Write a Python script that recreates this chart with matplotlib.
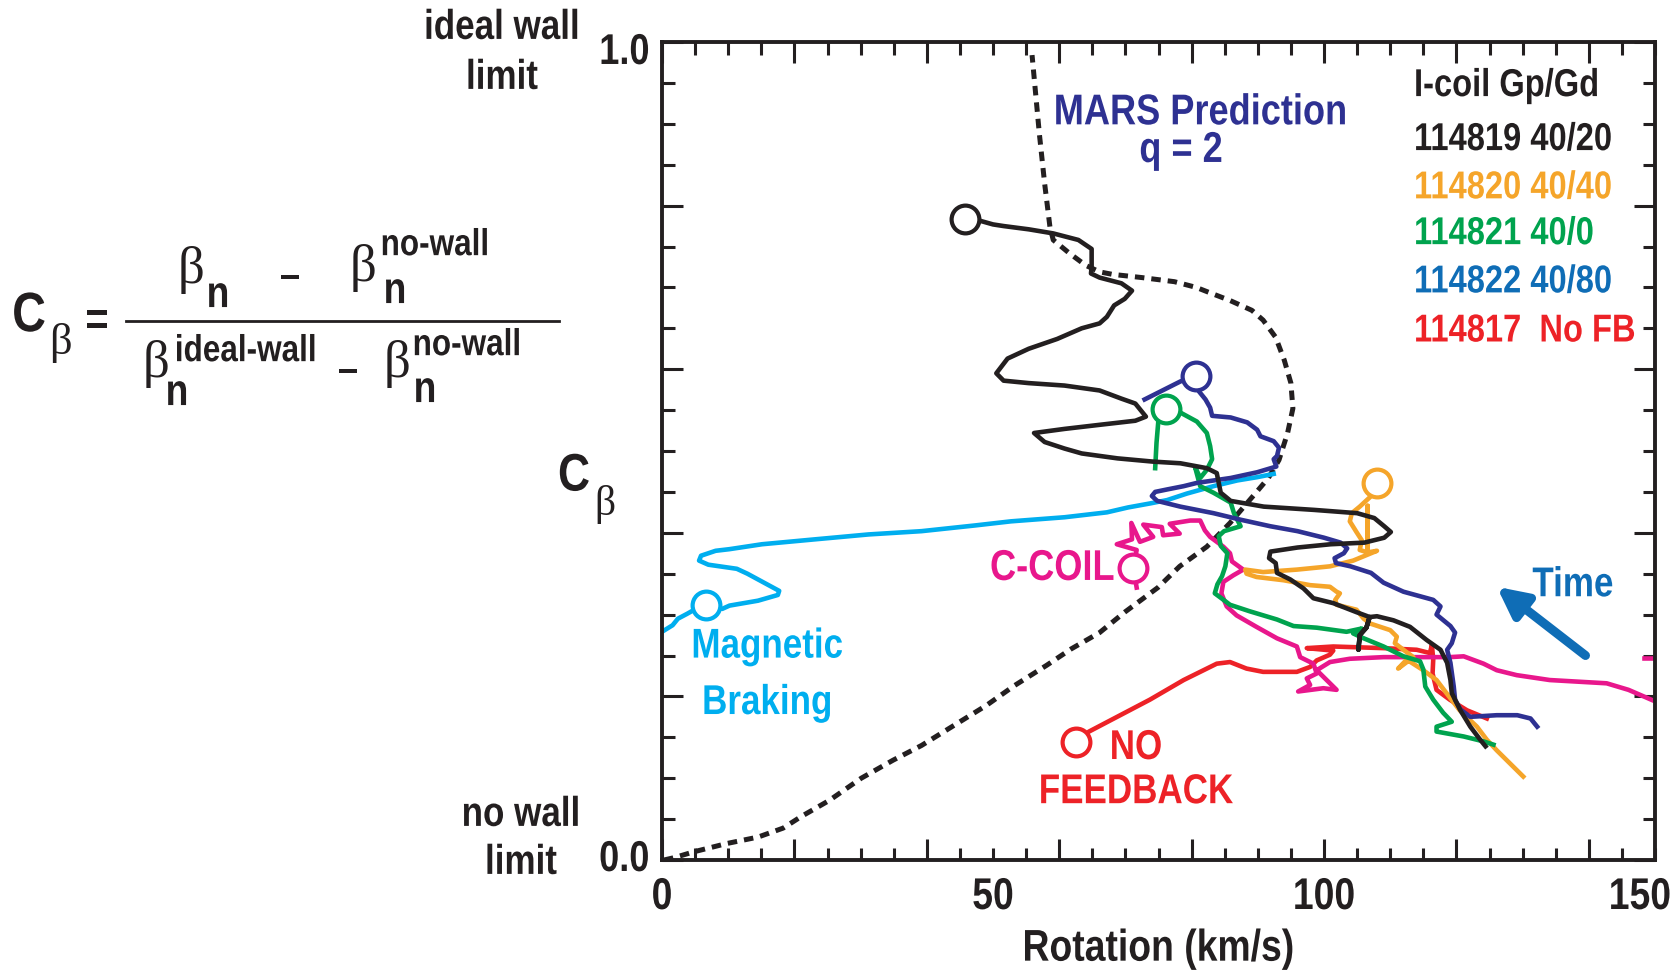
import matplotlib.pyplot as plt
import numpy as np
from matplotlib.ticker import MultipleLocator
from matplotlib.patheffects import AbstractPathEffect
from matplotlib.transforms import Affine2D

plt.rcParams['font.family'] = ['Liberation Sans', 'DejaVu Sans']
plt.rcParams['font.weight'] = 'bold'

# ---- data (Rotation km/s, C_beta) ----
mars_x = [0.3, 1.9, 4.8, 9.7, 14.5, 18.3, 21.0, 25.3, 30.1, 34.9, 39.2, 44.6, 49.0, 53.2, 58.1,
          61.8, 66.1, 69.9, 74.9, 78.2, 82.3, 85.8, 89.4, 91.6, 93.2, 94.5, 95.3, 95.0, 94.0, 92.7,
          90.8, 89.1, 85.8, 82.9, 80.7, 77.4, 72.5, 68.0, 66.1, 64.0, 61.5, 59.1, 58.6, 57.8, 57.0, 55.9]
mars_y = [0.0, 0.003, 0.010, 0.020, 0.028, 0.039, 0.053, 0.073, 0.100, 0.122, 0.140, 0.167, 0.189, 0.213, 0.238,
          0.258, 0.278, 0.303, 0.333, 0.359, 0.383, 0.412, 0.446, 0.467, 0.489, 0.522, 0.552, 0.583, 0.611, 0.639,
          0.660, 0.672, 0.684, 0.693, 0.700, 0.707, 0.712, 0.716, 0.719, 0.727, 0.742, 0.758, 0.774, 0.827, 0.888, 0.984]

black_x = [45.8, 47.8, 50.0, 51.6, 55.4, 59.1, 62.9, 64.9, 64.9, 64.8, 66.1, 69.4, 71.0, 69.9, 68.3, 67.2,
           66.1, 63.4, 59.7, 55.4, 52.2, 50.5, 51.6, 55.4, 60.8, 66.1, 69.4, 71.5, 73.1, 71.5, 66.1, 60.8,
           56.2, 57.8, 60.8, 63.4, 68.8, 74.2, 78.3, 82.3, 83.8, 84.1, 84.4, 85.9, 90.9, 98.5, 105.0, 107.6,
           109.1, 110.1, 109.1, 106.1, 101.0, 96.0, 91.9, 91.7, 92.7, 92.9, 94.9, 96.9, 98.4, 101.4, 104.9,
           106.9, 106.4, 105.4, 105.2, 105.4, 106.4, 106.9, 108.0, 110.5, 113.0, 115.5, 117.6, 118.6, 119.1,
           119.3, 120.6, 122.1, 123.6, 124.4]
black_y = [0.784, 0.782, 0.777, 0.775, 0.771, 0.766, 0.758, 0.747, 0.725, 0.717, 0.712, 0.705, 0.696, 0.686, 0.678, 0.664,
           0.656, 0.650, 0.637, 0.625, 0.613, 0.595, 0.586, 0.583, 0.580, 0.574, 0.564, 0.558, 0.542, 0.537, 0.532, 0.527,
           0.522, 0.511, 0.503, 0.497, 0.491, 0.487, 0.485, 0.479, 0.473, 0.461, 0.449, 0.439, 0.432, 0.428, 0.424, 0.418,
           0.408, 0.401, 0.394, 0.388, 0.386, 0.382, 0.377, 0.369, 0.363, 0.351, 0.343, 0.332, 0.320, 0.314, 0.303,
           0.297, 0.284, 0.275, 0.257, 0.275, 0.284, 0.297, 0.298, 0.293, 0.285, 0.269, 0.257, 0.241, 0.220,
           0.204, 0.183, 0.163, 0.147, 0.139]

navy_x = [72.9, 78.3, 80.6, 81.1, 82.1, 82.8, 83.1, 85.9, 88.4, 89.9, 90.4, 92.4, 93.2, 92.9, 92.4, 92.8,
          89.9, 85.9, 80.8, 78.8, 76.3, 74.5, 74.0, 74.8, 78.3, 83.3, 87.4, 91.9, 96.0, 100.0, 102.5, 103.5,
          103.0, 101.6, 101.8, 104.0, 107.1, 109.0, 112.0, 116.5, 117.6, 117.0, 119.1, 119.8, 119.3, 118.6,
          119.1, 119.6, 119.8, 120.6, 122.1, 126.1, 129.2, 131.2, 132.2]
navy_y = [0.563, 0.585, 0.592, 0.573, 0.563, 0.553, 0.543, 0.541, 0.535, 0.526, 0.518, 0.512, 0.504, 0.494, 0.490, 0.481,
          0.474, 0.467, 0.461, 0.457, 0.453, 0.450, 0.445, 0.439, 0.432, 0.424, 0.416, 0.408, 0.402, 0.394, 0.388, 0.381,
          0.375, 0.369, 0.363, 0.359, 0.351, 0.339, 0.328, 0.318, 0.310, 0.300, 0.286, 0.278, 0.265, 0.257,
          0.241, 0.212, 0.196, 0.184, 0.175, 0.177, 0.177, 0.173, 0.163]

green_x = [74.5, 74.7, 75.0, 76.1, 78.3, 80.8, 82.3, 82.8, 83.1, 82.3, 81.3, 80.5, 81.3, 83.3, 85.9, 86.4,
           87.4, 84.9, 84.1, 84.4, 85.4, 85.1, 84.6, 83.9, 83.5, 84.5, 85.8, 88.8, 92.9, 95.4, 98.9, 103.4,
           105.7, 104.4, 106.0, 109.0, 112.0, 114.5, 115.0, 115.3, 116.5, 118.0, 119.3, 117.0, 117.0, 121.1,
           124.1, 125.6]
green_y = [0.479, 0.510, 0.539, 0.551, 0.547, 0.536, 0.522, 0.506, 0.490, 0.477, 0.467, 0.481, 0.457, 0.449, 0.437, 0.424,
           0.408, 0.402, 0.396, 0.384, 0.375, 0.359, 0.347, 0.337, 0.326, 0.320, 0.312, 0.304, 0.294, 0.286, 0.284, 0.279,
           0.283, 0.277, 0.271, 0.261, 0.249, 0.243, 0.233, 0.212, 0.196, 0.180, 0.169, 0.163, 0.157, 0.151,
           0.145, 0.141]

orange_x = [108.0, 107.0, 105.4, 104.2, 103.9, 104.9, 105.7, 105.4, 106.6, 106.6, 106.6, 108.0, 104.4, 100.9,
            95.9, 90.8, 88.1, 88.3, 89.8, 93.9, 97.9, 100.9, 101.9, 102.4, 101.7, 101.9, 104.9, 106.0, 107.0,
            110.0, 111.0, 110.7, 112.0, 113.5, 111.2, 112.5, 115.0, 117.0, 118.5, 120.5, 123.1, 124.6, 126.1,
            128.1, 130.1]
orange_y = [0.461, 0.444, 0.432, 0.424, 0.414, 0.401, 0.391, 0.379, 0.376, 0.433, 0.376, 0.378, 0.366, 0.359,
            0.355, 0.352, 0.355, 0.350, 0.346, 0.342, 0.336, 0.334, 0.328, 0.326, 0.318, 0.312, 0.306, 0.295, 0.289,
            0.281, 0.273, 0.265, 0.257, 0.248, 0.234, 0.245, 0.232, 0.220, 0.204, 0.183, 0.163, 0.147, 0.134,
            0.118, 0.102]

magenta_x = [71.7, 71.2, 71.7, 68.7, 71.0, 70.9, 72.2, 74.2, 72.7, 75.5, 75.7, 78.2, 76.7, 79.8, 81.3, 82.0,
             82.8, 83.8, 84.8, 85.8, 86.1, 87.8, 86.3, 84.8, 84.5, 85.3, 86.8, 89.8, 92.9, 95.9, 96.4, 98.4,
             98.9, 97.4, 97.9, 96.1, 99.9, 101.9, 98.9, 100.9, 103.9, 109.0, 114.0, 119.0, 121.1, 124.1, 126.1,
             129.1, 134.1, 142.7, 146.0, 150.0]
magenta_y = [0.333, 0.357, 0.379, 0.386, 0.392, 0.412, 0.389, 0.395, 0.410, 0.407, 0.397, 0.399, 0.411, 0.415, 0.415, 0.403,
             0.395, 0.389, 0.383, 0.375, 0.365, 0.355, 0.348, 0.340, 0.326, 0.310, 0.299, 0.285, 0.271, 0.261, 0.248, 0.240,
             0.228, 0.222, 0.214, 0.206, 0.210, 0.208, 0.232, 0.242, 0.246, 0.248, 0.248, 0.248, 0.249, 0.240, 0.232,
             0.226, 0.220, 0.216, 0.208, 0.194]

red_x = [62.6, 64.5, 73.7, 78.8, 83.8, 85.8, 88.3, 90.8, 95.9, 97.9, 98.9, 100.9, 101.4, 97.4, 101.4, 109.0,
         114.0, 116.0, 116.3, 116.5, 116.4, 117.0, 119.0, 121.6, 124.6]
red_y = [0.144, 0.157, 0.196, 0.220, 0.240, 0.242, 0.234, 0.230, 0.230, 0.236, 0.244, 0.251, 0.256, 0.259, 0.261, 0.259,
         0.257, 0.253, 0.263, 0.245, 0.228, 0.208, 0.196, 0.183, 0.173]

cyan_x = [0.2, 1.6, 2.4, 3.8, 5.1, 6.7, 9.1, 10.2, 14.5, 17.5, 17.7, 16.1, 14.5, 12.9, 11.3, 7.0, 5.6, 5.9,
          8.1, 10.2, 15.1, 23.1, 31.2, 39.2, 47.3, 52.7, 60.8, 67.2, 70.4, 73.8, 76.3, 79.3, 83.3, 86.9, 89.9, 92.4]
cyan_y = [0.280, 0.287, 0.295, 0.301, 0.307, 0.312, 0.307, 0.311, 0.317, 0.324, 0.329, 0.336, 0.343, 0.350, 0.356,
          0.361, 0.366, 0.372, 0.378, 0.380, 0.386, 0.392, 0.398, 0.402, 0.409, 0.414, 0.419, 0.425, 0.431, 0.436,
          0.440, 0.448, 0.457, 0.464, 0.468, 0.472]

legend_labels = ['114819 40/20', '114820 40/40', '114821 40/0', '114822 40/80', '114817  No FB']
legend_y = [0.881, 0.822, 0.766, 0.707, 0.647]
xtick_labels = ['0', '50', '100', '150']
xtick_pos = [0, 50, 100, 150]
ytick_pos = [0.0, 0.2, 0.4, 0.6, 0.8, 1.0]
ytick_labels = ['0.0', '', '', '', '', '1.0']

# colours
C_BLACK = '#231f20'
C_ORANGE = '#f5a52a'
C_GREEN = '#00a34e'
C_NAVY = '#2e3192'
C_BLUE = '#0f6db6'
C_RED = '#ed2227'
C_MAG = '#e8178c'
C_CYAN = '#00aeef'

SQ = 0.84  # width/height ratio that makes Liberation Sans look condensed


class Tall(AbstractPathEffect):
    """stretch glyphs vertically (text is set at SQ * size), fakes a condensed face"""
    def __init__(self, dx=0, dy=0):
        super().__init__()
        self.dx = dx
        self.dy = dy

    def draw_path(self, renderer, gc, tpath, affine, rgbFace=None):
        # path units: 100 per em, cap height ~ 72
        stretch = Affine2D().translate(0, -36).scale(1, 1 / SQ).translate(0, 36)
        shift = Affine2D().translate(self.dx, self.dy)
        renderer.draw_path(gc, tpath, stretch + affine + shift, rgbFace)


def fs(size):
    return size * SQ


fig = plt.figure(figsize=(16.8, 9.74), dpi=100)
ax = fig.add_axes([662 / 1680, 1 - 860 / 974, 993 / 1680, 818 / 974])

lw = 3.3
mk = dict(marker='o', ms=20, mfc='white', mew=3.0)
ax.plot(mars_x, mars_y, color=C_BLACK, lw=3.6, ls=(0, (1.9, 1.4)))
ax.plot(cyan_x, cyan_y, color=C_CYAN, lw=lw, markevery=[5], mec=C_CYAN, **mk)
ax.plot(red_x, red_y, color=C_RED, lw=lw, markevery=[0], mec=C_RED, **mk)
ax.plot(magenta_x, magenta_y, color=C_MAG, lw=lw, markevery=[1], mec=C_MAG, **mk)
ax.plot(orange_x, orange_y, color=C_ORANGE, lw=lw, markevery=[0], mec=C_ORANGE, **mk)
ax.plot(green_x, green_y, color=C_GREEN, lw=lw, markevery=[3], mec=C_GREEN, **mk)
ax.plot(navy_x, navy_y, color=C_NAVY, lw=lw, markevery=[2], mec=C_NAVY, **mk)
ax.plot(black_x, black_y, color=C_BLACK, lw=lw, markevery=[0], mec=C_BLACK, **mk)
ax.plot([148.4, 150], [0.247, 0.247], color=C_MAG, lw=lw)

ax.set_xlim(0, 150)
ax.set_ylim(0, 1.0)

for s in ax.spines.values():
    s.set_linewidth(2.8)
    s.set_color(C_BLACK)

ax.xaxis.set_major_locator(MultipleLocator(20))
ax.xaxis.set_minor_locator(MultipleLocator(5))
ax.set_yticks(ytick_pos)
ax.yaxis.set_minor_locator(MultipleLocator(0.05))
ax.tick_params(which='both', direction='in', top=True, right=True, color=C_BLACK, width=2.2)
ax.tick_params(which='major', length=15)
ax.tick_params(which='minor', length=9)
ax.set_xticklabels([])
ax.set_yticklabels(ytick_labels, fontsize=fs(31), color=C_BLACK)
ax.tick_params(axis='y', pad=9)

secx = ax.secondary_xaxis('bottom')
secx.set_xticks(xtick_pos)
secx.set_xticklabels(xtick_labels, fontsize=fs(32), color=C_BLACK)
secx.tick_params(length=0, pad=14)
secx.spines['bottom'].set_visible(False)
secx.set_xlabel('Rotation (km/s)', fontsize=fs(32), color=C_BLACK, fontweight='bold', labelpad=12)

# annotations inside the plot
txt = []
txt.append(ax.text(81.3, 0.914, 'MARS Prediction', color=C_NAVY, fontsize=fs(31), ha='center', va='center'))
txt.append(ax.text(78.4, 0.868, 'q = 2', color=C_NAVY, fontsize=fs(31), ha='center', va='center'))
txt.append(ax.text(113.6, 0.947, 'I-coil Gp/Gd', color=C_BLACK, fontsize=fs(28), ha='left', va='center'))
for lab, yy, cc in zip(legend_labels, legend_y, [C_BLACK, C_ORANGE, C_GREEN, C_BLUE, C_RED]):
    txt.append(ax.text(113.6, yy, lab, color=cc, fontsize=fs(28), ha='left', va='center'))
txt.append(ax.text(68.3, 0.357, 'C-COIL', color=C_MAG, fontsize=fs(31), ha='right', va='center'))
txt.append(ax.text(15.9, 0.262, 'Magnetic', color=C_CYAN, fontsize=fs(30), ha='center', va='center'))
txt.append(ax.text(15.9, 0.193, 'Braking', color=C_CYAN, fontsize=fs(30), ha='center', va='center'))
txt.append(ax.text(71.6, 0.138, 'NO', color=C_RED, fontsize=fs(30), ha='center', va='center'))
txt.append(ax.text(71.6, 0.084, 'FEEDBACK', color=C_RED, fontsize=fs(30), ha='center', va='center'))
txt.append(ax.text(137.6, 0.337, 'Time', color=C_BLUE, fontsize=fs(30), ha='center', va='center'))
ax.annotate('', xy=(126.1, 0.334), xytext=(139.5, 0.250),
            arrowprops=dict(arrowstyle='-|>', color=C_BLUE, lw=6.5, mutation_scale=44,
                            shrinkA=0, shrinkB=0))


# labels outside the axes
def ftext(px, py, s, **kw):
    return fig.text(px / 1680, 1 - py / 974, s, ha='center', va='center', color=C_BLACK, **kw)


txt.append(ftext(502, 27, 'ideal wall', fontsize=fs(30)))
txt.append(ftext(502, 77, 'limit', fontsize=fs(30)))
txt.append(ftext(521, 814, 'no wall', fontsize=fs(30)))
txt.append(ftext(521, 862, 'limit', fontsize=fs(30)))

serif = ['Liberation Serif', 'DejaVu Serif']
txt.append(ftext(574, 476, 'C', fontsize=fs(38)))
ftext(605, 504, '\u03b2', fontsize=30, family=serif, weight='normal')

# C_beta definition
txt.append(ftext(29, 316, 'C', fontsize=fs(40)))
ftext(60, 343, '\u03b2', fontsize=32, family=serif, weight='normal')
txt.append(ftext(97, 321, '=', fontsize=fs(34)))
fig.add_artist(plt.Line2D([126 / 1680, 559 / 1680], [1 - 321 / 974] * 2, color=C_BLACK, lw=2))
ftext(191, 270, '\u03b2', fontsize=38, family=serif, weight='normal')
txt.append(ftext(218, 295, 'n', fontsize=fs(32)))
txt.append(ftext(290, 276, '\u2013', fontsize=fs(30)))
ftext(363, 268, '\u03b2', fontsize=38, family=serif, weight='normal')
txt.append(ftext(395, 291, 'n', fontsize=fs(32)))
txt.append(ftext(435, 245, 'no-wall', fontsize=fs(27)))
ftext(156, 364, '\u03b2', fontsize=38, family=serif, weight='normal')
txt.append(ftext(177, 393, 'n', fontsize=fs(32)))
txt.append(ftext(246, 351, 'ideal-wall', fontsize=fs(27)))
txt.append(ftext(348, 370, '\u2013', fontsize=fs(30)))
ftext(397, 364, '\u03b2', fontsize=38, family=serif, weight='normal')
txt.append(ftext(425, 390, 'n', fontsize=fs(32)))
txt.append(ftext(467, 345, 'no-wall', fontsize=fs(27)))

fig.canvas.draw()
for t in txt:
    t.set_path_effects([Tall()])
yl = ax.get_yticklabels()
yl[0].set_path_effects([Tall(dy=5)])
yl[-1].set_path_effects([Tall(dy=-6)])
xl = secx.get_xticklabels()
for t in xl[:-1]:
    t.set_path_effects([Tall()])
# the last label sits flush with the right spine
xl[-1].set_horizontalalignment('right')
xl[-1].set_path_effects([Tall(dx=16)])
secx.xaxis.label.set_path_effects([Tall()])

fig.savefig('out.png', dpi=100)
